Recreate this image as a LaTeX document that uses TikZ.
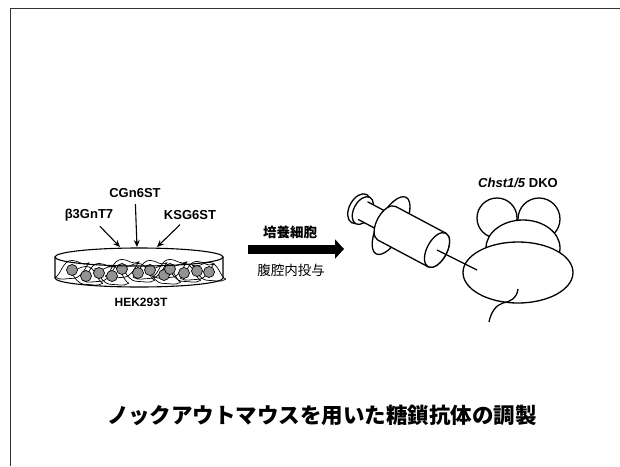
\documentclass[tikz,border=0pt]{standalone}
\usepackage{fontspec}
\setmainfont{Liberation Sans}
\newfontfamily\jpfont{Noto Sans CJK JP}
\usetikzlibrary{arrows.meta}

\begin{document}
\begin{tikzpicture}[x=1pt,y=-1pt,line width=1.1pt,
    label node/.style={inner sep=1pt,font=\bfseries\fontsize{13}{15}\selectfont},
    jp node/.style={inner sep=1pt,font=\jpfont\fontsize{13.5}{16}\selectfont},
    enzyme arrow/.style={-{Stealth[length=7pt,width=6pt]},line width=1.1pt,shorten <=5pt},
    cell outline/.style={line width=0.7pt},
    part/.style={fill=white,line width=1.3pt}]
    \useasboundingbox (0,0) rectangle (620,466);
    \draw[line width=1.3pt,black!80] (620,8.5) -- (10.5,8.5) -- (10.5,466);

    % enzymes and cultured cells
    \node[label node] (cgn) at (135,193) {CGn6ST};
    \node[label node] (b3gn) at (89,215) {β3GnT7};
    \node[label node] (ksg) at (190,215) {KSG6ST};
    \node[label node,font=\bfseries\fontsize{12}{14}\selectfont] (hek) at (141,302) {HEK293T};
    \coordinate (dish left) at (120,247);
    \coordinate (dish mid) at (137,247);
    \coordinate (dish right) at (157,247);
    \draw[enzyme arrow] (b3gn) -- (dish left);
    \draw[enzyme arrow] (cgn) -- (dish mid);
    \draw[enzyme arrow] (ksg) -- (dish right);

    \draw (55,257) -- (55,278) arc[start angle=180,end angle=0,x radius=84,y radius=9] -- (223,257);
    \foreach \x/\y/\s in {72/270/1,86/276/-1,99/273/1,112/276/-1,122/269/1,
                          138/273/-1,150/270/1,164/275/-1,170/269/1,184/273/-1,197/271/1,209/272/-1}{
      \begin{scope}[shift={(\x,\y)},xscale=1.2*\s,yscale=1.2]
        \draw[cell outline] (-14,6) .. controls (-9,4) and (-8,-8) .. (0,-8)
          .. controls (6,-8) and (8,-3) .. (14,-6)
          .. controls (9,2) and (7,7) .. (0,7)
          .. controls (-6,7) and (-9,9) .. (-14,6);
      \end{scope}
    }
    \foreach \x/\y in {72/270,86/276,99/273,112/276,122/269,138/273,150/270,164/275,170/269,184/273,197/271,209/272}
      \filldraw[cell outline,fill=gray!85] (\x,\y) circle[radius=5.5];
    \draw (139,257) ellipse[x radius=84,y radius=9];

    % transfer step
    \node[jp node,font=\jpfont\bfseries\fontsize{13.5}{16}\selectfont] (culture) at (290,232) {培養細胞};
    \node[jp node] (inject) at (291,270) {腹腔内投与};
    \coordinate (step start) at (248,249);
    \coordinate (step end) at (344,249);
    \draw[-{Triangle[length=9pt,width=19pt]},line width=9pt] (step start) -- (step end);

    % mouse
    \node[label node] (dko) at (518,183) {\textit{Chst1/5} DKO};
    \draw[part] (497,218) circle[radius=20];
    \draw[part] (539,219) circle[radius=21];
    \draw[part] (523,248) ellipse[x radius=37,y radius=28];
    \draw[part] (518,272.5) ellipse[x radius=55,y radius=30.5];
    \draw[part,fill=none] (518,289) .. controls (517,298) and (510,302) .. (503,303)
      .. controls (496,305) and (491,312) .. (489,322);
    \coordinate (needle tip) at (477,270);

    % syringe
    \begin{scope}[shift={(437,250)},rotate=-28]
      \draw[part] (-88,0) ellipse[x radius=10,y radius=16];
      \draw[part] (-84,0) ellipse[x radius=9,y radius=15];
      \draw[part] (-84,-10) -- (-50,-10) -- (-50,10) -- (-84,10);
      \draw[part] (-52,0) ellipse[x radius=13,y radius=32];
      \draw[part] (-57,-19) -- (0,-19) arc[start angle=-90,end angle=90,x radius=10,y radius=19]
        -- (-57,19) arc[start angle=90,end angle=270,x radius=10,y radius=19] -- cycle;
      \draw[part] (0,0) ellipse[x radius=10,y radius=19];
      \coordinate (barrel end) at (0,0);
    \end{scope}
    \draw[line width=1.2pt] (barrel end) -- (needle tip);

    \node[font=\jpfont\bfseries\fontsize{21.5}{24}\selectfont] (title) at (322,415) {ノックアウトマウスを用いた糖鎖抗体の調製};
\end{tikzpicture}
\end{document}
